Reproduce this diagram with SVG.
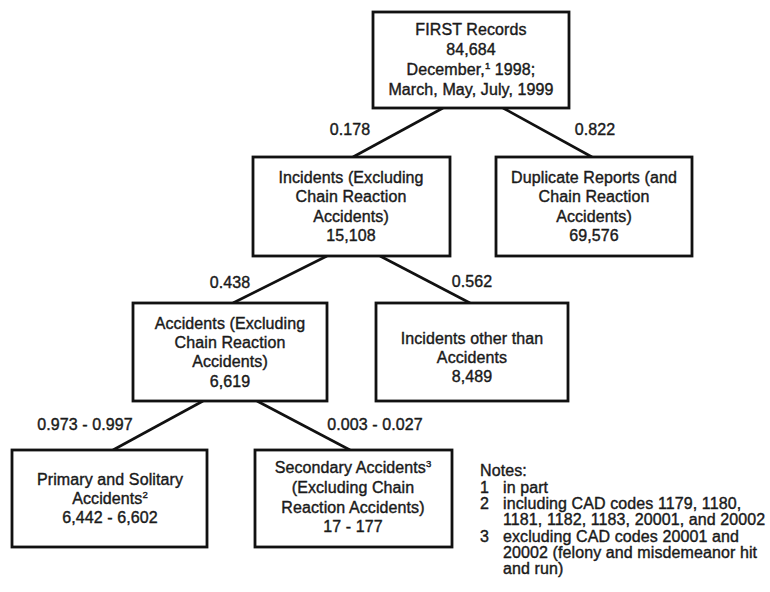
<svg xmlns="http://www.w3.org/2000/svg" width="770" height="592" viewBox="0 0 770 592">
<style>
.box{fill:#fff;stroke:#111;stroke-width:2.8}
.ln{stroke:#111;stroke-width:2.6;fill:none}
text{font-family:"Liberation Sans",Arial,sans-serif;font-size:16px;letter-spacing:0.1px;fill:#1a1a1a;stroke:#1a1a1a;stroke-width:0.4}
.c{text-anchor:middle}
.sup{font-size:9.5px}
</style>
<rect width="770" height="592" fill="#fff"/>
<g id="connectors">
<line class="ln" x1="443" y1="108" x2="353" y2="157"/>
<line class="ln" x1="503" y1="108" x2="592" y2="157"/>
<line class="ln" x1="327" y1="256" x2="233" y2="303"/>
<line class="ln" x1="380" y1="256" x2="470" y2="303"/>
<line class="ln" x1="203" y1="401" x2="113" y2="450"/>
<line class="ln" x1="257" y1="401" x2="350" y2="450"/>
<text class="c" x="350" y="135">0.178</text>
<text class="c" x="595" y="135">0.822</text>
<text class="c" x="230" y="288">0.438</text>
<text class="c" x="472" y="287">0.562</text>
<text class="c" x="85" y="430">0.973 - 0.997</text>
<text class="c" x="375" y="430">0.003 - 0.027</text>
</g>
<g id="first">
<rect class="box" x="373" y="12" width="196" height="96"/>
<text class="c" x="471" y="35">FIRST Records</text>
<text class="c" x="471" y="55">84,684</text>
<text class="c" x="471" y="75">December,<tspan class="sup" dy="-6">1</tspan><tspan dy="6"> 1998;</tspan></text>
<text class="c" x="471" y="95">March, May, July, 1999</text>
</g>
<g id="incidents">
<rect class="box" x="253" y="157" width="197" height="99"/>
<text class="c" x="351" y="183">Incidents (Excluding</text>
<text class="c" x="351" y="202">Chain Reaction</text>
<text class="c" x="351" y="222">Accidents)</text>
<text class="c" x="351" y="241">15,108</text>
</g>
<g id="duplicate">
<rect class="box" x="496" y="157" width="196" height="99"/>
<text class="c" x="594" y="183">Duplicate Reports (and</text>
<text class="c" x="594" y="202">Chain Reaction</text>
<text class="c" x="594" y="222">Accidents)</text>
<text class="c" x="594" y="241">69,576</text>
</g>
<g id="accidents">
<rect class="box" x="133" y="303" width="194" height="98"/>
<text class="c" x="230" y="329">Accidents (Excluding</text>
<text class="c" x="230" y="348">Chain Reaction</text>
<text class="c" x="230" y="367">Accidents)</text>
<text class="c" x="230" y="387">6,619</text>
</g>
<g id="other">
<rect class="box" x="376" y="303" width="192" height="98"/>
<text class="c" x="472" y="344">Incidents other than</text>
<text class="c" x="472" y="363">Accidents</text>
<text class="c" x="472" y="382">8,489</text>
</g>
<g id="primary">
<rect class="box" x="12" y="450" width="195" height="97"/>
<text class="c" x="110" y="485">Primary and Solitary</text>
<text class="c" x="110" y="504">Accidents<tspan class="sup" dy="-6">2</tspan></text>
<text class="c" x="110" y="523">6,442 - 6,602</text>
</g>
<g id="secondary">
<rect class="box" x="255" y="450" width="197" height="97"/>
<text class="c" x="353" y="473">Secondary Accidents<tspan class="sup" dy="-6">3</tspan></text>
<text class="c" x="353" y="493">(Excluding Chain</text>
<text class="c" x="353" y="513">Reaction Accidents)</text>
<text class="c" x="353" y="532">17 - 177</text>
</g>
<g id="notes">
<text x="480" y="476">Notes:</text>
<text x="480" y="493">1</text><text x="503" y="493">in part</text>
<text x="480" y="509">2</text><text x="503" y="509">including CAD codes 1179, 1180,</text>
<text x="503" y="525">1181, 1182, 1183, 20001, and 20002</text>
<text x="480" y="542">3</text><text x="503" y="542">excluding CAD codes 20001 and</text>
<text x="503" y="558">20002 (felony and misdemeanor hit</text>
<text x="503" y="574">and run)</text>
</g>
</svg>
